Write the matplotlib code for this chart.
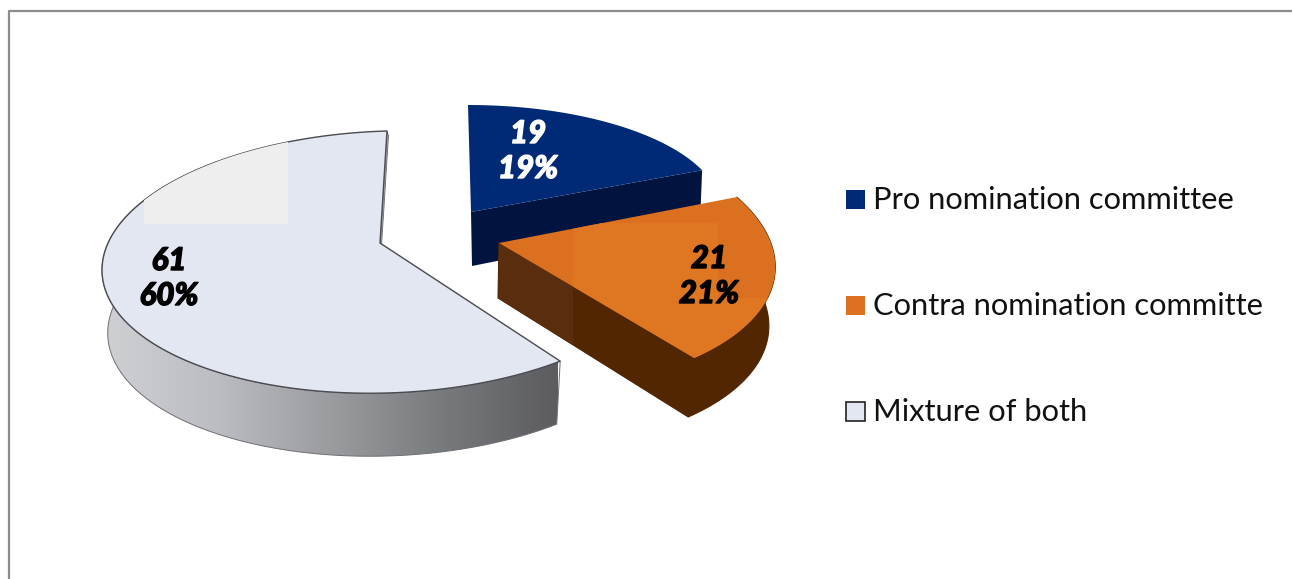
#!/usr/bin/env python

import matplotlib
matplotlib.use("Agg")
import matplotlib.pyplot as plt
import matplotlib.patheffects as pe
import numpy as np
from matplotlib.patches import Polygon, Rectangle

plt.rcParams['font.family'] = ['Lato', 'DejaVu Sans']

labels = ["Pro nomination committee", "Contra nomination committe", "Mixture of both"]
values = [19, 21, 61]
percents = ["19%", "21%", "60%"]

top_colors = ["#012a76", "#da7020", "#e2e7f1"]
swatch_edges = ["none", "none", "#222222"]
text_colors = ["white", "black", "black"]

W, H = 1292, 579

# ellipse of each slice: centre, radii, skew, apex of the wedge
centres = [(468, 210), (493, 254), (387, 262)]
radii = [(253, 105), (279.5, 135.5), (285, 131)]
skews = [(0, 0), (-39.5, -6), (0, -8)]
apexes = [(471, 212), (499, 243), (380, 243)]
depths = [50, 59, 63]
shrink = [1.0, 0.995, 0.98]
shift_x = [0, -5, 0]

label_xy = [(528, 134), (709, 259), (169, 261)]
line_gap = 35
legend_y = [199, 305, 411]


def rim(i, theta, lower=False):
    s, c = np.sin(theta), np.cos(theta)
    ox, oy = centres[i]
    rx, ry = radii[i]
    kx, ky = skews[i]
    x = rx * s + kx * c
    y = oy - ry * c + ky * s
    if lower:
        return np.column_stack([ox + shrink[i] * x + shift_x[i], y + depths[i]])
    return np.column_stack([ox + x, y])


def angle_span(i):
    edges = np.cumsum([0] + values) / sum(values) * 2 * np.pi
    return np.linspace(edges[i], edges[i + 1], 120)


fig = plt.figure(figsize=(W / 100, H / 100), dpi=100)
ax = fig.add_axes([0, 0, 1, 1])

# outer frame, runs off the right and bottom of the canvas
ax.plot([9, 9, W + 5], [H + 5, 11, 11], color="#8c8c8c", lw=1.6, zorder=1)

# --- grey slice ---
th = angle_span(2)
wall_th = th[th < np.radians(325)]
wall = np.vstack([rim(2, wall_th), rim(2, wall_th[::-1], lower=True)])
wall_patch = Polygon(wall, closed=True, fc="none", ec="#6e6e74", lw=0.7, zorder=2.1)
ax.add_patch(wall_patch)
shade = matplotlib.colors.LinearSegmentedColormap.from_list(
    "wall", ["#cfd0d4", "#bcbdc2", "#9a9ca0", "#777a7c", "#5b5b60"])
grad = ax.imshow(np.linspace(0, 1, 256).reshape(1, -1), cmap=shade, aspect="auto",
                 extent=(102, 558, H, 0), zorder=2)
grad.set_clip_path(wall_patch)

ax_g, ay_g = apexes[2]
rim_end = rim(2, np.array([0.0]))[0]
ax.add_patch(Polygon([(ax_g, ay_g + 1), rim_end, rim_end + (1.5, 5), (ax_g + 1.5, ay_g + 3)],
                     closed=True, fc="#a9abb0", ec="#6c6c70", lw=0.6, zorder=2.2))

face = Polygon(np.vstack([[apexes[2]], rim(2, th)]), closed=True,
               fc=top_colors[2], ec="#4a4a50", lw=1.0, zorder=3, joinstyle="round")
ax.add_patch(face)
pale = Rectangle((144, 120), 144, 104, fc="#eeeeee", ec="none", zorder=3.1)
ax.add_patch(pale)
pale.set_clip_path(Polygon(np.vstack([[apexes[2]], rim(2, th)]), transform=ax.transData))

# --- blue slice ---
th = angle_span(0)
a = np.array(apexes[0], dtype=float)
end = rim(0, th[-1:])[0]
ax.add_patch(Polygon([a, end, end + (-2, depths[0]), a + (1, depths[0] + 4)],
                     closed=True, fc="#01143f", ec="none", zorder=4))
ax.add_patch(Polygon(np.vstack([[a], rim(0, th)]), closed=True,
                     fc=top_colors[0], ec="none", zorder=4.1))

# --- orange slice ---
th = angle_span(1)
a = np.array(apexes[1], dtype=float)
low_end = rim(1, th[-1:], lower=True)[0]
cut_wall = Polygon([a, rim(1, th[-1:])[0], low_end, a + (-1, 55)],
                   closed=True, fc="#512600", ec="#512600", lw=0.8, zorder=5)
ax.add_patch(cut_wall)
ax.add_patch(Polygon(np.vstack([rim(1, th), rim(1, th[::-1], lower=True)]),
                     closed=True, fc="#512600", ec="#512600", lw=0.8, zorder=5))
lit = Rectangle((490, 240), 83, 200, fc="#592d0e", ec="none", zorder=5.1)
ax.add_patch(lit)
lit.set_clip_path(cut_wall)

face_pts = np.vstack([[a], rim(1, th)])
ax.add_patch(Polygon(face_pts, closed=True, fc=top_colors[1], ec="none", zorder=5.2))
for box in [(573, 223, 145, 75), (573, 298, 205, 65)]:
    r = Rectangle(box[:2], box[2], box[3], fc="#df7722", ec="none", zorder=5.3)
    ax.add_patch(r)
    r.set_clip_path(Polygon(face_pts, transform=ax.transData))

# value and percentage labels
for (x, y), v, p, col in zip(label_xy, values, percents, text_colors):
    for text, yy in [(str(v), y), (p, y + line_gap)]:
        t = ax.text(x, yy, text, color=col, fontsize=22.5, fontweight="black", style="italic",
                    ha="center", va="center", zorder=8)
        t.set_path_effects([pe.withStroke(linewidth=1.0, foreground=col)])

# legend rows
for y, lab, col, edge in zip(legend_y, labels, top_colors, swatch_edges):
    ax.add_patch(Rectangle((846, y - 9.5), 19, 19, fc=col, ec=edge, lw=1.2, zorder=6))
    ax.text(873, y + 1, lab, fontsize=22.2, color="#111111", ha="left", va="center", zorder=8)

ax.set_xlim(0, W)
ax.set_ylim(H, 0)
ax.axis("off")

plt.savefig("out.png", dpi=100, facecolor="white")
